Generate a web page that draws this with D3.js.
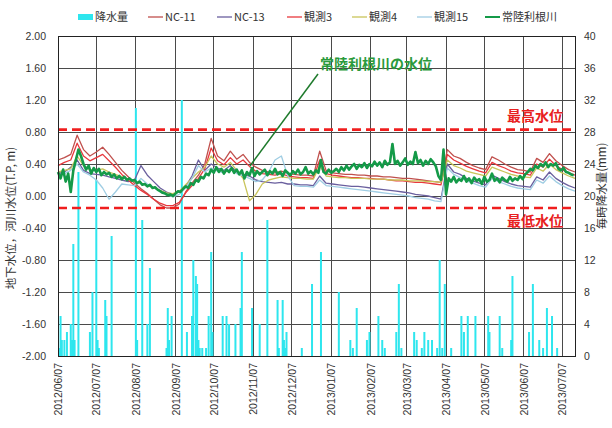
<!DOCTYPE html>
<html><head><meta charset="utf-8">
<script src="https://cdn.jsdelivr.net/npm/d3@7"></script>
<style>
body{margin:0;background:#fff}
svg{font-family:"Liberation Sans",Arial,"Noto Sans CJK JP",sans-serif}
.jp{font-family:"Noto Sans CJK JP","Liberation Sans",sans-serif}
</style>
</head><body>
<svg id="chart" width="612" height="428"></svg>
<script>
// ---- time frame -------------------------------------------------------
const startDate = "2012-06-07";
const endDate = "2013-07-17";
const wellStepDays = 5;   // groundwater series: one reading every 5 days
const riverStepDays = 2;  // river stage: one reading every 2 days

const tickDates = ["2012-06-07","2012-07-07","2012-08-07","2012-09-07","2012-10-07","2012-11-07",
  "2012-12-07","2013-01-07","2013-02-07","2013-03-07","2013-04-07","2013-05-07","2013-06-07","2013-07-07"];
const leftTicks = [-2.0,-1.6,-1.2,-0.8,-0.4,0.0,0.4,0.8,1.2,1.6,2.0];
const rightTicks = [0,4,8,12,16,20,24,28,32,36,40];

const maxLevel = 0.83;   // 最高水位
const minLevel = -0.15;  // 最低水位

// ---- groundwater levels (T.P. m) --------------------------------------
const nc11 = [0.45,0.48,0.52,0.76,0.58,0.50,0.55,0.61,0.52,0.42,
  0.32,0.24,0.16,0.09,0.03,-0.04,-0.11,-0.15,-0.15,-0.10,
  0.05,0.16,0.26,0.40,0.72,0.50,0.44,0.56,0.46,0.52,
  0.42,0.36,0.32,0.30,0.29,0.31,0.28,0.27,0.26,0.26,
  0.25,0.56,0.32,0.29,0.28,0.27,0.27,0.26,0.26,0.25,
  0.25,0.24,0.24,0.23,0.22,0.22,0.21,0.20,0.19,0.18,
  0.17,0.58,0.50,0.47,0.42,0.38,0.35,0.33,0.49,0.45,
  0.40,0.36,0.33,0.32,0.30,0.47,0.42,0.53,0.44,0.38,
  0.33,0.30];
const nc13 = [0.28,0.30,0.36,0.45,0.32,0.28,0.27,0.26,0.24,0.22,
  0.20,0.18,0.20,0.38,0.26,0.18,0.10,0.05,0.02,0.05,
  0.12,0.25,0.45,0.32,0.40,0.35,0.32,0.38,0.30,0.27,
  0.25,0.20,0.18,0.17,0.16,0.17,0.15,0.15,0.14,0.14,
  0.13,0.25,0.16,0.15,0.14,0.13,0.12,0.12,0.11,0.10,
  0.09,0.08,0.07,0.06,0.05,0.04,0.02,0.01,0.00,-0.02,
  -0.04,0.40,0.30,0.27,0.22,0.19,0.16,0.14,0.26,0.22,
  0.18,0.15,0.13,0.12,0.11,0.24,0.20,0.30,0.22,0.17,
  0.13,0.10];
const obs3 = [0.38,0.42,0.45,0.66,0.50,0.44,0.48,0.52,0.44,0.36,
  0.27,0.20,0.13,0.07,0.02,-0.04,-0.09,-0.12,-0.12,-0.08,
  0.04,0.13,0.22,0.34,0.60,0.44,0.39,0.48,0.40,0.45,
  0.37,0.31,0.28,0.27,0.26,0.28,0.25,0.24,0.23,0.23,
  0.22,0.45,0.28,0.26,0.25,0.24,0.23,0.23,0.22,0.22,
  0.21,0.21,0.20,0.19,0.19,0.18,0.17,0.17,0.16,0.15,
  0.14,0.52,0.45,0.41,0.37,0.34,0.31,0.29,0.42,0.38,
  0.35,0.31,0.29,0.28,0.26,0.40,0.36,0.46,0.38,0.33,
  0.29,0.26];
const obs4 = [0.30,0.32,0.34,0.50,0.38,0.33,0.32,0.34,0.30,0.27,
  0.24,0.21,0.18,0.16,0.13,0.10,0.07,0.04,0.03,0.06,
  0.14,0.22,0.30,0.36,0.50,0.40,0.36,0.42,0.32,0.22,
  -0.06,0.02,0.15,0.20,0.22,0.24,0.23,0.22,0.22,0.21,
  0.21,0.38,0.25,0.24,0.23,0.23,0.22,0.22,0.22,0.21,
  0.21,0.21,0.20,0.20,0.20,0.19,0.19,0.19,0.18,0.18,
  0.17,0.45,0.38,0.35,0.31,0.29,0.27,0.25,0.36,0.33,
  0.30,0.27,0.25,0.24,0.23,0.35,0.31,0.40,0.33,0.29,
  0.25,0.22];
const obs15 = [0.25,0.28,0.32,0.40,0.30,0.26,0.20,0.10,-0.04,0.05,
  0.15,0.14,0.13,0.22,0.15,0.10,0.06,0.02,-0.01,0.02,
  0.10,0.22,0.38,0.30,0.35,0.31,0.29,0.34,0.28,0.25,
  0.22,0.18,0.20,0.30,0.45,0.50,0.25,0.13,0.12,0.12,
  0.11,0.20,0.13,0.12,0.11,0.10,0.09,0.08,0.07,0.06,
  0.05,0.04,0.03,0.02,0.01,0.00,-0.02,-0.03,-0.04,-0.06,
  -0.07,0.35,0.27,0.23,0.19,0.16,0.13,0.11,0.22,0.18,
  0.15,0.12,0.10,0.09,0.08,0.20,0.16,0.25,0.18,0.13,
  0.09,0.06];

// ---- river stage, 常陸利根川 (T.P. m) -----------------------------------
const river = [
  0.30,0.22,0.33,0.18,0.28,0.05,0.32,0.45,0.58,0.50,
  0.40,0.33,0.38,0.28,0.35,0.30,0.34,0.26,0.30,0.27,
  0.29,0.24,0.27,0.22,0.25,0.21,0.24,0.20,0.22,0.19,
  0.20,0.16,0.18,0.14,0.15,0.12,0.14,0.10,0.11,0.08,
  0.06,0.04,0.03,0.01,0.02,0.00,0.03,0.06,0.05,0.09,
  0.12,0.10,0.16,0.14,0.20,0.18,0.24,0.22,0.28,0.26,
  0.33,0.29,0.36,0.30,0.34,0.28,0.33,0.30,0.35,0.29,
  0.33,0.27,0.32,0.22,0.30,0.26,0.35,0.25,0.31,0.27,
  0.30,0.33,0.26,0.31,0.28,0.34,0.27,0.30,0.25,0.32,
  0.29,0.26,0.31,0.28,0.33,0.27,0.30,0.36,0.28,0.31,
  0.27,0.32,0.29,0.45,0.30,0.28,0.33,0.29,0.31,0.34,
  0.30,0.36,0.32,0.38,0.33,0.37,0.40,0.34,0.39,0.36,
  0.41,0.35,0.40,0.37,0.43,0.38,0.42,0.36,0.44,0.39,
  0.42,0.65,0.40,0.44,0.38,0.42,0.47,0.39,0.43,0.40,
  0.55,0.41,0.45,0.38,0.44,0.40,0.46,0.42,0.37,0.25,
  0.20,0.58,0.02,0.22,0.18,0.24,0.17,0.21,0.19,0.25,
  0.18,0.22,0.16,0.23,0.19,0.21,0.15,0.24,0.18,0.20,
  0.28,0.19,0.22,0.17,0.23,0.20,0.18,0.24,0.19,0.22,
  0.20,0.25,0.21,0.27,0.30,0.34,0.32,0.38,0.35,0.40,
  0.37,0.42,0.36,0.40,0.38,0.41,0.34,0.32,0.35,0.30,
  0.29,0.27,0.26];

// ---- hourly rainfall (mm) ---------------------------------------------
const rainDates = ["2012-06-08","2012-06-09","2012-06-10","2012-06-12","2012-06-14","2012-06-17","2012-06-18",
  "2012-06-19","2012-06-20","2012-06-23","2012-07-02","2012-07-04","2012-07-07","2012-07-08","2012-07-09",
  "2012-07-14","2012-07-15","2012-07-19","2012-08-07","2012-08-08","2012-08-12","2012-08-16","2012-08-18",
  "2012-08-31","2012-09-01","2012-09-02","2012-09-04","2012-09-12","2012-09-16","2012-09-20","2012-09-21",
  "2012-09-23","2012-09-24","2012-09-25","2012-09-26","2012-09-28","2012-10-01","2012-10-03","2012-10-05",
  "2012-10-06","2012-10-14","2012-10-17","2012-10-19","2012-10-24","2012-10-28","2012-10-29","2012-11-06",
  "2012-11-12","2012-11-18","2012-11-26","2012-11-27","2012-11-30","2012-12-01","2012-12-02","2012-12-03",
  "2012-12-15","2012-12-23","2012-12-30","2013-01-13","2013-01-22","2013-01-24","2013-01-27","2013-02-04",
  "2013-02-06","2013-02-13","2013-02-16","2013-02-18","2013-02-27","2013-03-01","2013-03-03","2013-03-13",
  "2013-03-15","2013-03-19","2013-03-21","2013-03-24","2013-03-27","2013-03-31","2013-04-02","2013-04-04",
  "2013-04-06","2013-04-11","2013-04-19","2013-04-21","2013-04-24","2013-04-30","2013-05-10","2013-05-11",
  "2013-05-19","2013-05-21","2013-05-28","2013-05-29","2013-06-11","2013-06-14","2013-06-19","2013-06-22",
  "2013-06-25","2013-06-29","2013-07-03"];
const rainMm = [1,5,2,2,3,4,2,
  14,2,23,3,8,22,2,1,
  7,5,15,31,2,17,4,11,
  1,6,2,5,32,3,5,12,
  10,9,2,1,1,1,5,13,
  3,5,5,4,4,6,13,6,
  4,17,7,1,7,2,1,3,
  1,9,13,8,2,1,6,2,
  3,5,2,1,3,9,1,3,
  2,1,3,2,2,1,12,1,
  9,1,5,3,5,5,5,3,
  5,1,2,10,3,9,2,1,
  6,5,1];

// ---- legend ------------------------------------------------------------
const seriesNames = ["NC-11","NC-13","観測3","観測4","観測15","常陸利根川"];
const seriesColors = ["#c0504d","#6a5f9e","#e8383d","#c9c45a","#9fcde3","#149a48"];
const rainName = "降水量";
const rainColor = "#2ee6ee";

// ---- drawing -----------------------------------------------------------
const parseDay = d3.utcParse("%Y-%m-%d");
const t0 = parseDay(startDate);
const svg = d3.select("#chart");

const plotL = 58, plotR = 575, plotT = 36, plotB = 356;
const x = d3.scaleUtc().domain([t0, parseDay(endDate)]).range([plotL, plotR]);
const yL = d3.scaleLinear().domain([-2, 2]).range([plotB, plotT]);
const yR = d3.scaleLinear().domain([0, 40]).range([plotB, plotT]);
const ticksX = tickDates.map(parseDay);

// grid
const grid = svg.append("g").attr("stroke", "#4a4a4a").attr("stroke-width", 1).attr("shape-rendering", "crispEdges");
grid.selectAll("line.h").data(leftTicks).join("line").attr("class", "h")
  .attr("x1", plotL).attr("x2", plotR).attr("y1", d => yL(d)).attr("y2", d => yL(d));
grid.selectAll("line.v").data(ticksX).join("line").attr("class", "v")
  .attr("x1", d => x(d)).attr("x2", d => x(d)).attr("y1", plotT).attr("y2", plotB);

// rainfall bars on the right axis
svg.append("g").selectAll("rect").data(rainDates.map((d, i) => ({ t: parseDay(d), v: rainMm[i] }))).join("rect")
  .attr("x", d => x(d.t) - 1).attr("width", 2)
  .attr("y", d => yR(d.v)).attr("height", d => yR(0) - yR(d.v))
  .attr("fill", rainColor);

// groundwater and river lines
const wellSeries = [nc11, nc13, obs3, obs4, obs15];
const lineGen = step => d3.line()
  .x((d, i) => x(d3.utcDay.offset(t0, i * step)))
  .y(d => yL(d));
wellSeries.forEach((vals, k) => {
  svg.append("path").datum(vals).attr("fill", "none")
    .attr("stroke", seriesColors[k]).attr("stroke-width", 1.3)
    .attr("stroke-linejoin", "round").attr("d", lineGen(wellStepDays));
});
svg.append("path").datum(river).attr("fill", "none")
  .attr("stroke", seriesColors[5]).attr("stroke-width", 2.6)
  .attr("stroke-linejoin", "round").attr("d", lineGen(riverStepDays));

// high / low water levels
[maxLevel, minLevel].forEach(v => {
  svg.append("line").attr("x1", plotL).attr("x2", plotR).attr("y1", yL(v)).attr("y2", yL(v))
    .attr("stroke", "#f01e1e").attr("stroke-width", 2.6).attr("stroke-dasharray", "9,5");
});

// frame
svg.append("rect").attr("x", plotL).attr("y", plotT).attr("width", plotR - plotL).attr("height", plotB - plotT)
  .attr("fill", "none").attr("stroke", "#222").attr("stroke-width", 1).attr("shape-rendering", "crispEdges");

// axes
const axL = svg.append("g").attr("transform", `translate(${plotL},0)`)
  .call(d3.axisLeft(yL).tickValues(leftTicks).tickSize(0).tickPadding(12).tickFormat(d => d.toFixed(2)));
const axR = svg.append("g").attr("transform", `translate(${plotR},0)`)
  .call(d3.axisRight(yR).tickValues(rightTicks).tickSize(0).tickPadding(9).tickFormat(d => String(d)));
const axB = svg.append("g").attr("transform", `translate(0,${plotB})`)
  .call(d3.axisBottom(x).tickValues(ticksX).tickSize(0).tickFormat(d3.utcFormat("%Y/%m/%d")));
axB.selectAll("text").attr("x", -7).attr("y", 0).attr("dy", "0.35em")
  .attr("transform", "rotate(-90)").style("text-anchor", "end");
[axL, axR, axB].forEach(a => {
  a.select(".domain").remove();
  a.selectAll("text").attr("fill", "#333").style("font-size", "10.5px")
    .style("font-family", '"Liberation Sans",Arial,sans-serif');
});

// axis titles
svg.append("text").attr("class", "jp").attr("transform", "translate(15,218) rotate(-90)")
  .attr("text-anchor", "middle").attr("fill", "#333").style("font-size", "11.5px")
  .text("地下水位，河川水位(T.P, m)");
svg.append("text").attr("class", "jp").attr("transform", "translate(606,186) rotate(-90)")
  .attr("text-anchor", "middle").attr("fill", "#333").style("font-size", "11.5px")
  .text("毎時降水量(mm)");

// annotations
svg.append("line").attr("x1", 318).attr("y1", 74).attr("x2", 250).attr("y2", 166)
  .attr("stroke", "#1e7a2c").attr("stroke-width", 1.5);
svg.append("text").attr("class", "jp").attr("x", 320).attr("y", 69).attr("fill", "#2a9a3c")
  .style("font-size", "14px").style("font-weight", "bold").text("常陸利根川の水位");
svg.append("text").attr("class", "jp").attr("x", 507).attr("y", 121).attr("fill", "#e82020")
  .style("font-size", "14px").style("font-weight", "bold").text("最高水位");
svg.append("text").attr("class", "jp").attr("x", 507).attr("y", 226).attr("fill", "#e82020")
  .style("font-size", "14px").style("font-weight", "bold").text("最低水位");

// legend
const legend = svg.append("g").attr("class", "jp").style("font-size", "11px");
legend.append("rect").attr("x", 78).attr("y", 14).attr("width", 15).attr("height", 6).attr("fill", rainColor);
legend.append("text").attr("x", 95).attr("y", 21).attr("fill", "#333").text(rainName);
const legendX = [148, 217, 287, 352, 417, 485];
seriesNames.forEach((name, k) => {
  legend.append("line").attr("x1", legendX[k]).attr("x2", legendX[k] + 15).attr("y1", 17).attr("y2", 17)
    .attr("stroke", seriesColors[k]).attr("stroke-width", k === 5 ? 2 : 1.3);
  legend.append("text").attr("x", legendX[k] + 17).attr("y", 21).attr("fill", "#333").text(name);
});
</script>
</body></html>
